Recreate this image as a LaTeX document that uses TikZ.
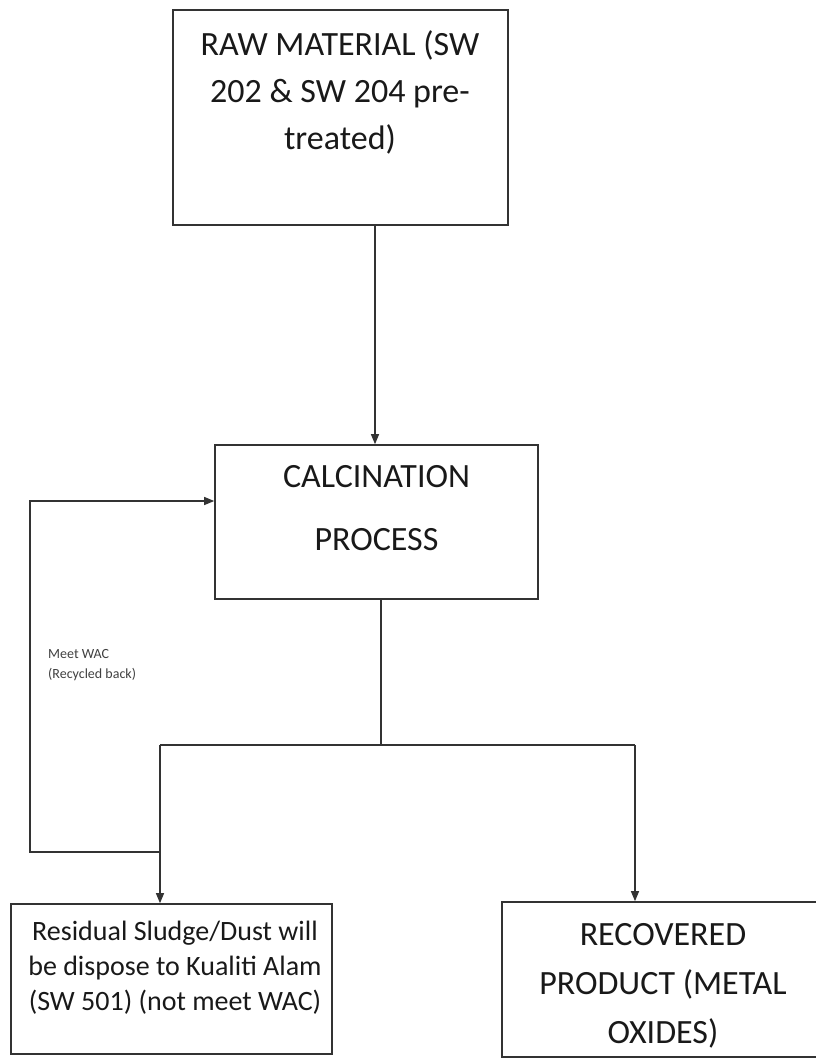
\documentclass[tikz,border=0pt]{standalone}
\usepackage{fontspec}
\setmainfont{Carlito}
\usetikzlibrary{arrows.meta}
\begin{document}
\begin{tikzpicture}[x=1pt,y=-1pt,
  box/.style={draw=black!80, line width=1.6pt, inner sep=0pt},
  conn/.style={draw=black!80, line width=1.2pt},
  arr/.style={conn, -{Triangle[length=10pt,width=8pt]}},
  bigtxt/.style={align=center, text=black!90, inner sep=0pt, anchor=base},
]
\useasboundingbox (0,0) rectangle (816,1060);
\begin{scope}
\clip (0,0) rectangle (816,1060);
% boxes
\node[box, minimum width=335, minimum height=215] (raw) at (340.5,117.5) {};
\node[bigtxt, font=\fontsize{34}{47}\selectfont] (rawt) at (340,149) {RAW MATERIAL (SW\\202 \& SW 204 pre-\\treated)};
\node[box, minimum width=323, minimum height=154] (calc) at (376.5,522) {};
\node[bigtxt, font=\fontsize{34}{63}\selectfont] (calct) at (376.5,550) {CALCINATION\\PROCESS};
\node[box, minimum width=321, minimum height=150] (sludge) at (171.5,979) {};
\node[bigtxt, font=\fontsize{28}{35}\selectfont] (sludget) at (175,1010) {Residual Sludge/Dust will\\be dispose to Kualiti Alam\\(SW 501) (not meet WAC)};
\node[box, minimum width=318, minimum height=155] (rec) at (661,979.5) {};
\node[bigtxt, font=\fontsize{34}{49}\selectfont] (rect) at (663,1043) {RECOVERED\\PRODUCT (METAL\\OXIDES)};
\end{scope}
% connectors
\draw[arr] (375,225) coordinate (rawout) -- (rawout |- calc.north);
\coordinate (split) at (381,745);
\coordinate (L) at (160,745);
\coordinate (R) at (635,745);
\draw[conn] (split |- calc.south) -- (split);
\draw[conn] (L) -- (R);
\draw[arr] (L) -- (L |- sludge.north);
\draw[arr] (R) -- (R |- rec.north);
\coordinate (J) at (160,852);
\coordinate (A) at (30,852);
\coordinate (B) at (30,501);
\draw[arr] (J) -- (A) -- (B) -- (B -| calc.west);
\node[align=left, anchor=west, font=\fontsize{14}{20}\selectfont, text=black!75, inner sep=0pt] (lbl) at (48,665) {Meet WAC\\(Recycled back)};
\end{tikzpicture}
\end{document}
